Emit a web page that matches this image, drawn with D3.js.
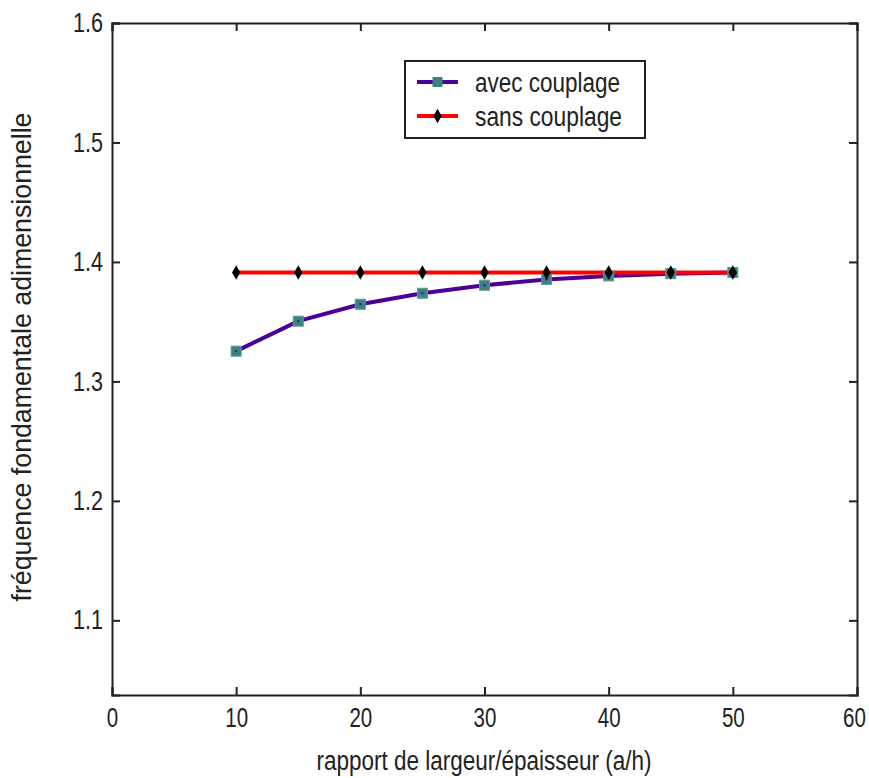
<!DOCTYPE html>
<html>
<head>
<meta charset="utf-8">
<script src="https://cdn.jsdelivr.net/npm/d3@7"></script>
<style>
  body { margin: 0; background: #fff; }
  text { font-family: "Liberation Sans", Arial, sans-serif; fill: #222; }
</style>
</head>
<body>
<svg id="chart" width="869" height="778"></svg>
<script>
const ratios = [10, 15, 20, 25, 30, 35, 40, 45, 50];
const avecCouplage = [1.3253, 1.3504, 1.3646, 1.3738, 1.3805, 1.3853, 1.3883, 1.3902, 1.3912];
const sansCouplage = [1.3912, 1.3912, 1.3912, 1.3912, 1.3912, 1.3912, 1.3912, 1.3912, 1.3912];
const xTicks = [0, 10, 20, 30, 40, 50, 60];
const yTicks = [1.1, 1.2, 1.3, 1.4, 1.5, 1.6];

const svg = d3.select("#chart");
const margin = { left: 112, right: 12, top: 23, bottom: 83 };
const width = 869 - margin.left - margin.right;
const height = 778 - margin.top - margin.bottom;

const x = d3.scaleLinear().domain([0, 60]).range([0, width]);
const y = d3.scaleLinear().domain([1.0375, 1.6]).range([height, 0]);

const FONT = 27;
// the original font is a narrow one: squeeze text horizontally
function squeeze(sel, ratio) {
  sel.each(function () {
    const w = this.getComputedTextLength();
    d3.select(this).attr("textLength", w * ratio).attr("lengthAdjust", "spacingAndGlyphs");
  });
}

const g = svg.append("g").attr("transform", `translate(${margin.left},${margin.top})`);

const tickLen = 8;
// mirrored inner ticks on all four sides
const axBottom = g.append("g").attr("transform", `translate(0,${height})`)
  .call(d3.axisBottom(x).tickValues(xTicks).tickSize(-tickLen).tickPadding(13).tickFormat(d3.format("d")));
const axTop = g.append("g")
  .call(d3.axisTop(x).tickValues(xTicks).tickSize(-tickLen).tickFormat(""));
const axLeft = g.append("g")
  .call(d3.axisLeft(y).tickValues(yTicks).tickSize(-tickLen).tickPadding(9).tickFormat(d3.format(".1f")));
const axRight = g.append("g").attr("transform", `translate(${width},0)`)
  .call(d3.axisRight(y).tickValues(yTicks).tickSize(-tickLen).tickFormat(""));

[axBottom, axTop, axLeft, axRight].forEach((a) => {
  a.select(".domain").attr("stroke", "#222").attr("stroke-width", 2);
  a.selectAll(".tick line").attr("stroke", "#222").attr("stroke-width", 2);
  a.selectAll(".tick text").attr("font-size", FONT).attr("fill", "#222")
    .attr("font-family", "Liberation Sans, Arial, sans-serif");
});
squeeze(axBottom.selectAll(".tick text"), 0.76);
squeeze(axLeft.selectAll(".tick text"), 0.8);
// keep the last label inside the window
axBottom.selectAll(".tick text").filter((d) => d === 60).attr("dx", -3);

const line = d3.line().x((d, i) => x(ratios[i])).y((d) => y(d));

g.append("path").datum(avecCouplage)
  .attr("d", line).attr("fill", "none").attr("stroke", "#4b0096").attr("stroke-width", 4);
g.append("path").datum(sansCouplage)
  .attr("d", line).attr("fill", "none").attr("stroke", "#ff0000").attr("stroke-width", 4);

g.selectAll("rect.avec").data(avecCouplage).enter().append("rect")
  .attr("class", "avec")
  .attr("x", (d, i) => x(ratios[i]) - 5).attr("y", (d) => y(d) - 5)
  .attr("width", 10).attr("height", 10)
  .attr("fill", "#3c8282").attr("stroke", "#5a9a9a").attr("stroke-width", 1);
g.selectAll("rect.avecdot").data(avecCouplage).enter().append("rect")
  .attr("class", "avecdot")
  .attr("x", (d, i) => x(ratios[i]) - 1).attr("y", (d) => y(d) - 1)
  .attr("width", 2).attr("height", 2).attr("fill", "#2a2060");

const diamond = d3.symbol().type(d3.symbolDiamond).size(60);
g.selectAll("path.sans").data(sansCouplage).enter().append("path")
  .attr("class", "sans")
  .attr("transform", (d, i) => `translate(${x(ratios[i])},${y(d)})`)
  .attr("d", diamond).attr("fill", "#000");

// legend
const lg = svg.append("g").attr("transform", "translate(405,61)");
lg.append("rect").attr("width", 240).attr("height", 77)
  .attr("fill", "#fff").attr("stroke", "#222").attr("stroke-width", 2);
const entries = [
  { label: "avec couplage", color: "#4b0096", marker: "square", len: 145 },
  { label: "sans couplage", color: "#ff0000", marker: "diamond", len: 147 },
];
entries.forEach((e, i) => {
  const cy = 21 + i * 34;
  lg.append("line").attr("x1", 12).attr("x2", 53).attr("y1", cy).attr("y2", cy)
    .attr("stroke", e.color).attr("stroke-width", 4);
  if (e.marker === "square") {
    lg.append("rect").attr("x", 27.5).attr("y", cy - 5).attr("width", 10).attr("height", 10)
      .attr("fill", "#3c8282");
  } else {
    lg.append("path").attr("transform", `translate(32.5,${cy})`).attr("d", diamond).attr("fill", "#000");
  }
  lg.append("text").attr("x", 70).attr("y", cy + 10).attr("font-size", FONT)
    .attr("textLength", e.len).attr("lengthAdjust", "spacingAndGlyphs").text(e.label);
});

// axis titles
svg.append("text").attr("x", 484).attr("y", 770)
  .attr("text-anchor", "middle").attr("font-size", FONT)
  .attr("textLength", 335).attr("lengthAdjust", "spacingAndGlyphs")
  .text("rapport de largeur/épaisseur (a/h)");
svg.append("text")
  .attr("transform", "translate(31,357) rotate(-90)")
  .attr("text-anchor", "middle").attr("font-size", FONT)
  .attr("textLength", 489).attr("lengthAdjust", "spacingAndGlyphs")
  .text("fréquence fondamentale adimensionnelle");
</script>
</body>
</html>
